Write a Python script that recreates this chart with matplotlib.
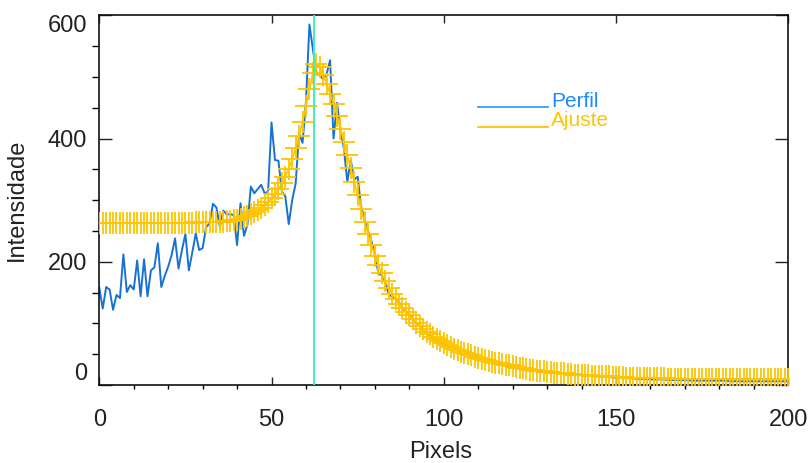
import matplotlib
matplotlib.use("Agg")
import matplotlib.pyplot as plt
import numpy as np
from matplotlib.ticker import MultipleLocator

plt.rcParams["font.family"] = ["Liberation Sans", "DejaVu Sans"]

# Observed intensity profile (one value per pixel, 0..200)
perfil = [
    158, 124, 159, 155, 122, 146, 141, 212, 151, 162,
    155, 202, 144, 204, 144, 186, 191, 230, 159, 177,
    192, 211, 238, 189, 219, 245, 186, 215, 246, 219,
    222, 256, 262, 294, 288, 257, 283, 277, 277, 276,
    227, 295, 242, 260, 322, 311, 318, 325, 311, 314,
    426, 365, 364, 314, 306, 261, 300, 327, 408, 393,
    460, 585, 545, 508, 502, 496, 505, 527, 400, 458,
    415, 384, 330, 365, 333, 338, 290, 268, 250, 233,
    212, 182, 178, 166, 148, 143, 139, 134, 126, 118,
    115, 108, 100, 96, 88, 85, 80, 75, 72, 70,
    66, 63, 61, 60, 57, 55, 53, 50, 49, 47,
    45, 43, 41, 39, 38, 36, 35, 34, 32, 31,
    30, 29, 28, 27, 26, 26, 25, 24, 23, 22,
    21, 21, 20, 19, 19, 18, 18, 17, 17, 16,
    16, 15, 15, 15, 14, 14, 14, 13, 13, 12,
    12, 12, 12, 11, 11, 11, 10, 10, 10, 10,
    9, 9, 9, 9, 9, 8, 8, 8, 8, 8,
    8, 8, 7, 7, 7, 7, 7, 7, 7, 7,
    7, 7, 7, 6, 6, 6, 6, 6, 6, 6,
    6, 6, 6, 6, 6, 6, 6, 6, 6, 6,
    6,
]

# Fitted profile
ajuste = [
    263, 263, 263, 263, 263, 263, 263, 263, 263, 263,
    263, 263, 263, 263, 263, 263, 263, 263, 263, 263,
    263, 263, 263, 263, 263, 263, 263, 263, 264, 264,
    264, 264, 264, 265, 265, 265, 265, 266, 266, 267,
    268, 270, 272, 274, 277, 280, 284, 288, 292, 297,
    303, 310, 318, 327, 338, 351, 366, 384, 404, 427,
    452, 480, 506, 521, 516, 503, 489, 473, 456, 437,
    416, 395, 373, 352, 330, 308, 286, 265, 245, 227,
    210, 195, 181, 169, 158, 148, 140, 132, 125, 119,
    113, 107, 101, 96, 91, 86, 82, 78, 74, 71,
    68, 65, 62, 59, 57, 54, 52, 50, 48, 46,
    44, 42, 41, 39, 38, 36, 35, 34, 33, 32,
    30, 29, 28, 27, 26, 25, 24, 23, 23, 22,
    21, 21, 20, 20, 19, 19, 18, 18, 17, 17,
    16, 16, 16, 15, 15, 15, 14, 14, 14, 13,
    13, 13, 13, 12, 12, 12, 12, 12, 11, 11,
    11, 11, 11, 11, 11, 10, 10, 10, 10, 10,
    10, 10, 10, 10, 10, 10, 10, 10, 10, 10,
    10, 10, 9, 9, 9, 9, 9, 9, 9, 9,
    9, 9, 9, 9, 9, 9, 9, 9, 9, 9,
    9,
]

centro = 62.4
pixels = np.arange(len(perfil))

x_ticks = [0, 50, 100, 150, 200]
y_ticks = [0, 200, 400, 600]

fig = plt.figure(figsize=(8.11, 4.63), dpi=100)
ax = fig.add_axes([0.1224, 0.1685, 0.8496, 0.7985])

ax.plot(pixels, perfil, color="#1872d2", lw=1.4, zorder=2)
ax.plot(pixels, ajuste, color="#ffc400", lw=1.2, marker="+", ms=16,
        mew=1.3, zorder=3)
ax.axvline(centro, color="#3cf0b0", lw=1.4, zorder=4)

ax.set_xlim(0, 200)
ax.set_ylim(0, 600)
ax.set_xticks(x_ticks)
ax.set_yticks(y_ticks)
ax.xaxis.set_minor_locator(MultipleLocator(10))
ax.yaxis.set_minor_locator(MultipleLocator(50))

ax.tick_params(direction="in", top=True, right=True, colors="#222222",
               labelsize=17)
ax.tick_params(axis="x", which="major", length=5.8, width=1.0, pad=17)
ax.tick_params(axis="x", which="minor", length=3.2, width=1.0)
ax.tick_params(axis="y", which="major", length=9.4, width=1.0, pad=9)
ax.tick_params(axis="y", which="minor", length=4.8, width=1.0)

ylabels = ax.get_yticklabels()
ylabels[0].set_verticalalignment("bottom")
ylabels[-1].set_verticalalignment("top")

for s in ax.spines.values():
    s.set_linewidth(1.2)
    s.set_color("#111111")

ax.set_xlabel("Pixels", fontsize=17, color="#222222")
ax.set_ylabel("Intensidade", fontsize=17, color="#222222")
ax.xaxis.set_label_coords(0.496, -0.152)
ax.yaxis.set_label_coords(-0.103, 0.5)

# Legend drawn as lines with coloured labels
lx0, lx1 = 0.550, 0.651
for yy, txt, lc, tc in [(0.751, "Perfil", "#3d9bff", "#1e88ff"),
                        (0.699, "Ajuste", "#ffc400", "#ffc400")]:
    ax.plot([lx0, lx1], [yy, yy], transform=ax.transAxes, color=lc,
            lw=1.3, clip_on=False)
    ax.text(lx1 + 0.005, yy + 0.002, txt, transform=ax.transAxes,
            color=tc, fontsize=15, va="baseline", ha="left")

fig.savefig("out.png", dpi=100)
